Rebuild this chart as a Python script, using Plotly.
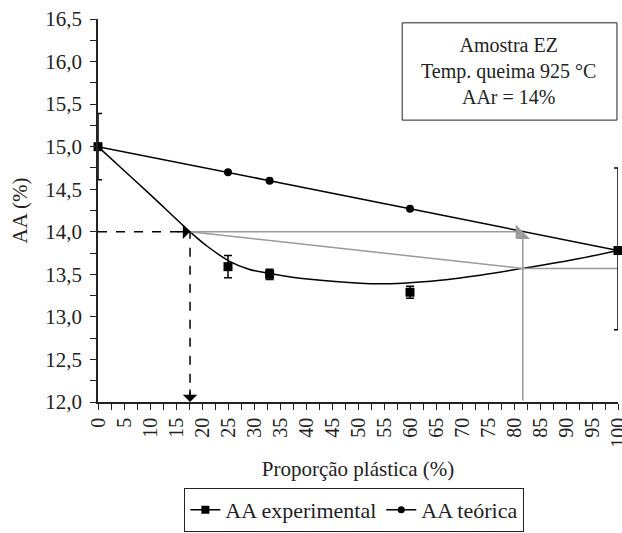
import plotly.graph_objects as go

# ---- data ----
pp_exp = [0, 25, 33, 60, 100]
aa_exp = [15.0, 13.59, 13.50, 13.29, 13.78]
err_plus = [0.39, 0.13, 0.06, 0.07, 0.97]
err_minus = [0.39, 0.13, 0.06, 0.07, 0.93]

pp_teo = [0, 25, 33, 60, 100]
aa_teo = [15.0, 14.70, 14.60, 14.27, 13.78]

trend_x = [0, 5, 10, 17.7, 21, 25.4, 29, 33, 37, 45, 54, 64, 73.5, 81.7, 91.3, 100]
trend_y = [15.0, 14.72, 14.44, 14.0, 13.83, 13.65, 13.56, 13.51, 13.47, 13.42, 13.39, 13.42, 13.49, 13.57, 13.67, 13.78]

aar = 14.0
pp_exp_at_aar = 17.7
pp_teo_at_aar = 81.7
aa_teo_at_exp = 13.57

x_ticks = list(range(0, 101, 5))
box_text = "Amostra EZ<br>Temp. queima 925 °C<br>AAr = 14%"

FONT = "Liberation Serif, Times New Roman, serif"
GRAY = "#9a9a9a"

fig = go.Figure()

fig.add_trace(go.Scatter(x=trend_x, y=trend_y, mode="lines", line=dict(color="black", width=1.5, shape="spline", smoothing=1.0),
                         showlegend=False, hoverinfo="skip", cliponaxis=False))

fig.add_trace(go.Scatter(x=[pp_exp_at_aar, pp_teo_at_aar, 100], y=[aar, aa_teo_at_exp, aa_teo_at_exp], mode="lines",
                         line=dict(color=GRAY, width=1.5), showlegend=False, hoverinfo="skip"))

fig.add_trace(go.Scatter(x=[0, pp_exp_at_aar, pp_exp_at_aar], y=[aar, aar, 12.0], mode="lines",
                         line=dict(color="black", width=1.5, dash="dash"), showlegend=False, hoverinfo="skip"))

fig.add_trace(go.Scatter(x=pp_teo, y=aa_teo, mode="lines+markers", name="AA teórica",
                         line=dict(color="black", width=1.5), marker=dict(symbol="circle", size=8, color="black"),
                         cliponaxis=False, showlegend=False))

fig.add_trace(go.Scatter(x=pp_exp, y=aa_exp, mode="markers", name="AA experimental",
                         marker=dict(symbol="square", size=9, color="black"),
                         error_y=dict(type="data", array=err_plus, arrayminus=err_minus, color="black", thickness=1.5, width=4),
                         cliponaxis=False, showlegend=False))

fig.add_trace(go.Scatter(x=[None], y=[None], mode="lines+markers", name="AA experimental",
                         line=dict(color="black", width=1.5), marker=dict(symbol="square", size=8, color="black")))
fig.add_trace(go.Scatter(x=[None], y=[None], mode="lines+markers", name="AA teórica",
                         line=dict(color="black", width=1.5), marker=dict(symbol="circle", size=7, color="black")))

annotations = [
    dict(x=pp_exp_at_aar, y=aar, ax=-14, ay=0, xref="x", yref="y", text="",
         showarrow=True, arrowhead=1, arrowsize=1.6, arrowwidth=1.5, arrowcolor="black", standoff=0),
    dict(x=pp_exp_at_aar, y=12.0, ax=0, ay=-14, xref="x", yref="y", text="",
         showarrow=True, arrowhead=1, arrowsize=1.6, arrowwidth=1.5, arrowcolor="black", standoff=0),
    dict(x=pp_teo_at_aar, y=aar, ax=pp_exp_at_aar, ay=aar, axref="x", ayref="y", xref="x", yref="y", text="",
         showarrow=True, arrowhead=1, arrowsize=1.6, arrowwidth=1.5, arrowcolor=GRAY, standoff=0),
    dict(x=pp_teo_at_aar, y=aar, ax=pp_teo_at_aar, ay=12.0, axref="x", ayref="y", xref="x", yref="y", text="",
         showarrow=True, arrowhead=1, arrowsize=1.6, arrowwidth=1.5, arrowcolor=GRAY, standoff=0),
    dict(x=0.79, y=0.864, xref="paper", yref="paper", text=box_text, showarrow=False,
         font=dict(family=FONT, size=20, color="#222"), align="center", xanchor="center", yanchor="middle"),
]

shapes = [
    dict(type="rect", xref="paper", yref="paper", x0=0.585, x1=0.998, y0=0.736, y1=0.99,
         line=dict(color="#222", width=1), fillcolor="white", layer="below"),
]

fig.update_layout(
    width=622, height=533,
    margin=dict(l=98, r=4, t=19, b=131, autoexpand=False),
    paper_bgcolor="white", plot_bgcolor="white",
    separators=",.",
    font=dict(family=FONT, size=19, color="#222"),
    showlegend=True,
    legend=dict(orientation="h", x=0.493, xanchor="center", y=-0.2245, yanchor="top",
                bordercolor="#222", borderwidth=1, font=dict(family=FONT, size=22, color="#222"),
                itemwidth=30),
    annotations=annotations,
    shapes=shapes,
)

fig.update_xaxes(range=[0, 100], tickvals=x_ticks, tickangle=-90, ticks="outside", ticklen=6, tickwidth=1,
                 tickcolor="#222", showline=True, linecolor="#222", linewidth=1.5, showgrid=False, zeroline=False,
                 ticklabeloverflow="allow", automargin=False,
                 minor=dict(dtick=2.5, ticks="outside", ticklen=6, tickcolor="#222", showgrid=False),
                 title=dict(text="Proporção plástica (%)", font=dict(family=FONT, size=21), standoff=15),
                 tickfont=dict(family=FONT, size=20))
fig.update_yaxes(range=[12.0, 16.5], dtick=0.5, tickformat=".1f", ticks="outside", ticklen=6, tickwidth=1,
                 tickcolor="#222", showline=True, linecolor="#222", linewidth=1.5, showgrid=False, zeroline=False,
                 automargin=False, ticklabelstandoff=4,
                 minor=dict(dtick=0.25, ticks="outside", ticklen=6, tickcolor="#222", showgrid=False),
                 title=dict(text="AA (%)", font=dict(family=FONT, size=21), standoff=12),
                 tickfont=dict(family=FONT, size=21))

fig.write_html("out.html")
